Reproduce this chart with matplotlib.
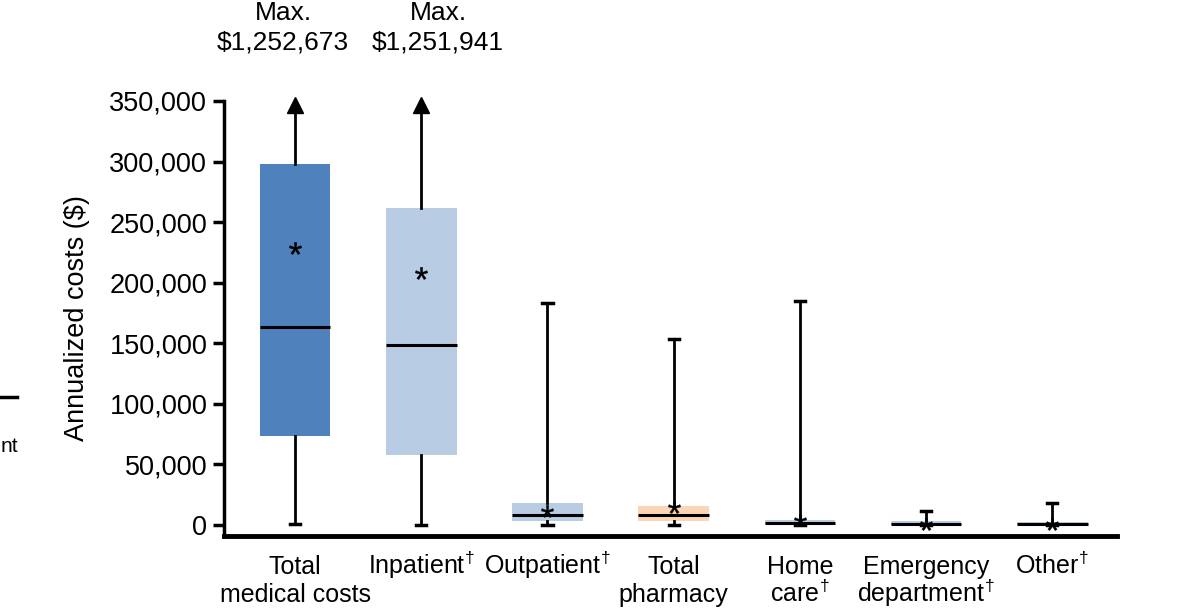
import numpy as np
import matplotlib
matplotlib.use("Agg")
import matplotlib.pyplot as plt
import matplotlib.transforms as mtransforms
from matplotlib.ticker import FuncFormatter

plt.rcParams['font.family'] = ['Liberation Sans', 'DejaVu Sans']
plt.rcParams['mathtext.fontset'] = 'custom'
plt.rcParams['mathtext.rm'] = 'Liberation Sans'

# cost categories and their box-plot summaries (annualized $)
dag = '$^{\\!\\dagger}$'
categories = [['Total', 'medical costs'], ['Inpatient' + dag], ['Outpatient' + dag],
              ['Total', 'pharmacy'], ['Home', 'care' + dag],
              ['Emergency', 'department' + dag], ['Other' + dag]]
q1 = [73500, 57800, 3300, 3300, 800, 0, 0]
median = [163400, 148600, 8300, 8300, 1600, 800, 500]
q3 = [298000, 261700, 18000, 15700, 4000, 3300, 2500]
mean = [228700, 208000, 11500, 14500, 4500, 1200, 800]
whis_lo = [1000, 0, 0, 0, 0, 0, 0]
whis_hi = [350000, 350000, 183000, 153500, 185000, 11500, 18000]
truncated = [True, True, False, False, False, False, False]
max_labels = ['Max.\n$1,252,673', 'Max.\n$1,251,941']

box_colors = ['#4F81BD', '#B8CCE4', '#B8CCE4', '#FBD5B5', '#B8CCE4', '#B8CCE4', '#B8CCE4']

fig = plt.figure(figsize=(11.83, 6.09), dpi=100)
ax = fig.add_axes([0.1893, 0.1199, 0.7550, 0.7143])

stats = []
for i in range(len(categories)):
    stats.append({'q1': q1[i], 'med': median[i], 'q3': q3[i], 'mean': mean[i],
                  'whislo': whis_lo[i], 'whishi': whis_hi[i], 'fliers': []})

pos = np.arange(1, len(categories) + 1)
bp = ax.bxp(stats, positions=pos, widths=0.56, patch_artist=True, showfliers=False,
            showmeans=False, showcaps=True,
            boxprops=dict(linewidth=0),
            medianprops=dict(color='black', linewidth=2.2),
            whiskerprops=dict(color='black', linewidth=2.0),
            capprops=dict(color='black', linewidth=2.5),
            capwidths=0.08)
for patch, c in zip(bp['boxes'], box_colors):
    patch.set_facecolor(c)
    patch.set_edgecolor(c)

# truncated whiskers end in an arrow instead of a cap
for i, t in enumerate(truncated):
    if t:
        bp['caps'][2 * i + 1].set_visible(False)
        ax.plot(pos[i], whis_hi[i] - 3000, marker='^', markersize=12, color='black',
                clip_on=False, zorder=5)

ax.scatter(pos, mean, marker='$*$', s=80, color='black', linewidths=0.3, zorder=6)

ax.set_xlim(0.437, 7.513)
ax.set_ylim(-9100, 350000)
ax.set_yticks(np.arange(0, 350001, 50000))
ax.yaxis.set_major_formatter(FuncFormatter(lambda v, p: f'{int(v):,}'))
ax.set_xticks(pos)
ax.set_xticklabels([])
ax.tick_params(axis='x', length=0)
ax.tick_params(axis='y', length=8, width=2.5, labelsize=19.5, pad=4)
ax.set_ylabel('Annualized costs ($)', fontsize=19.5, labelpad=14)

# category names, one text per line so the baselines stay even
trans = mtransforms.blended_transform_factory(ax.transData, fig.transFigure)
baselines = [1 - 574 / 609, 1 - 602 / 609]
for x, lines in zip(pos, categories):
    for k, line in enumerate(lines):
        ax.text(x, baselines[k], line, transform=trans, ha='center', va='baseline',
                fontsize=18, clip_on=False)

for s in ['top', 'right']:
    ax.spines[s].set_visible(False)
ax.spines['left'].set_linewidth(2.5)
ax.spines['bottom'].set_linewidth(3.5)

# max values for the truncated categories
fig.text(283 / 1183, 1 - 28 / 609, max_labels[0], ha='center', va='center',
         fontsize=19, linespacing=1.3)
fig.text(438 / 1183, 1 - 28 / 609, max_labels[1], ha='center', va='center',
         fontsize=19, linespacing=1.3)

# edge of the neighbouring panel
fig.add_artist(plt.Line2D([0, 17 / 1183], [1 - 397 / 609, 1 - 397 / 609],
                          color='black', linewidth=2.5))
fig.text(0.5 / 1183, 1 - 447 / 609, 'nt', ha='left', va='center', fontsize=15)

fig.savefig('out.png', dpi=100)
